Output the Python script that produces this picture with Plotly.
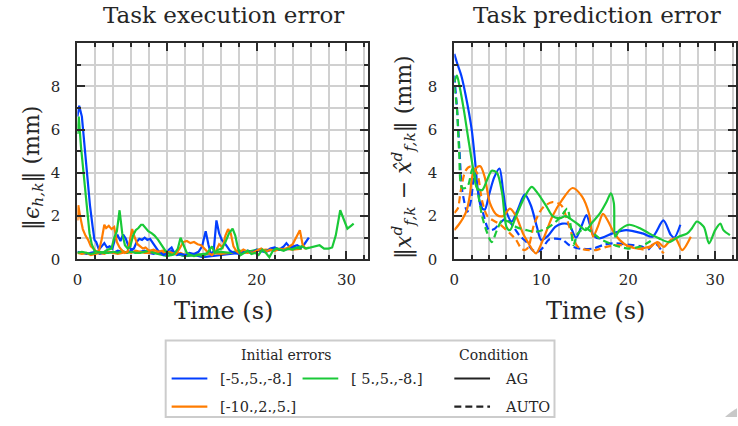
import math
import plotly.graph_objects as go

# ---------------- data ----------------
# Task execution error (mm), condition AG
exec_blue_ag_t = [0, 0.2, 0.5, 0.8, 1.1, 1.4, 1.7, 1.9, 2.1, 2.4, 2.7, 3.0, 3.3, 3.6, 3.9, 4.2, 4.5, 4.8, 5.1, 5.4, 5.7, 6.0, 6.3, 6.6, 6.9, 7.2, 7.5, 7.8, 8.1, 8.4, 8.7, 9.0, 9.3, 9.6, 9.9, 10.2, 10.5, 10.8, 11.1, 11.5, 12.0, 12.5, 13.0, 13.5, 13.9, 14.3, 14.6, 14.9, 15.2, 15.5, 15.8, 16.1, 16.5, 17.0, 17.5, 18.0, 18.5, 19.0, 19.5, 20.0, 20.5, 21.0, 21.5, 22.0, 22.5, 23.0, 23.3, 23.7, 24.1, 24.5, 24.9, 25.3, 25.8]
exec_blue_ag_v = [6.6, 7.1, 6.6, 5.2, 3.8, 2.5, 1.5, 0.9, 0.8, 0.45, 0.6, 0.75, 0.55, 0.6, 0.5, 0.95, 1.1, 0.85, 1.15, 0.95, 0.6, 0.45, 0.5, 0.8, 0.95, 0.9, 1.0, 0.9, 0.95, 0.75, 0.6, 0.4, 0.3, 0.2, 0.25, 0.45, 0.55, 0.3, 0.2, 0.25, 0.2, 0.3, 0.25, 0.35, 0.6, 1.3, 0.7, 0.2, 0.4, 1.8, 1.2, 0.9, 0.7, 0.4, 0.3, 0.25, 0.35, 0.4, 0.3, 0.45, 0.4, 0.35, 0.5, 0.55, 0.45, 0.6, 0.75, 0.55, 0.6, 0.65, 0.55, 0.7, 1.0]

exec_orange_ag_t = [0, 0.1, 0.3, 0.6, 0.9, 1.2, 1.5, 1.8, 2.1, 2.4, 2.7, 3.0, 3.2, 3.5, 3.8, 4.1, 4.4, 4.7, 5.0, 5.3, 5.6, 5.9, 6.1, 6.4, 6.7, 7.0, 7.3, 7.6, 8.0, 8.5, 9.0, 9.5, 10.0, 10.5, 11.0, 11.4, 11.8, 12.2, 12.6, 13.0, 13.4, 13.8, 14.2, 14.6, 15.0, 15.4, 15.8, 16.2, 16.5, 16.8, 17.1, 17.4, 17.7, 18.0, 18.5, 19.0, 19.5, 20.0, 20.5, 21.0, 21.5, 22.0, 22.5, 23.0, 23.5, 24.0, 24.4, 24.8, 25.1, 25.4, 25.8]
exec_orange_ag_v = [1.8, 2.5, 2.0, 1.4, 1.1, 0.9, 0.6, 0.5, 0.35, 0.4, 0.9, 1.6, 1.45, 1.55, 1.4, 1.5, 0.8, 0.55, 0.4, 0.3, 0.35, 1.0, 1.4, 1.0, 0.7, 0.6, 0.5, 0.55, 0.4, 0.45, 0.35, 0.4, 0.35, 0.3, 0.25, 0.5, 0.8, 0.85, 0.75, 0.8, 0.7, 0.65, 0.45, 0.3, 0.2, 0.35, 0.7, 0.55, 1.1, 1.4, 1.2, 0.6, 0.4, 0.3, 0.45, 0.35, 0.3, 0.4, 0.5, 0.35, 0.45, 0.4, 0.5, 0.45, 0.55, 0.7, 1.0, 1.35, 0.7, 0.5, 0.55]

exec_green_ag_t = [0, 0.15, 0.4, 0.8, 1.1, 1.35, 1.6, 1.9, 2.2, 2.6, 3.0, 3.4, 3.8, 4.1, 4.4, 4.7, 5.0, 5.3, 5.6, 5.9, 6.2, 6.5, 6.8, 7.1, 7.3, 7.6, 7.9, 8.3, 8.6, 9.0, 9.4, 9.8, 10.1, 10.5, 10.8, 11.2, 11.5, 11.9, 12.2, 12.6, 13.0, 13.5, 14.0, 14.5, 15.0, 15.3, 15.7, 16.1, 16.5, 16.9, 17.3, 17.6, 17.9, 18.2, 18.6, 19.0, 19.4, 19.8, 20.2, 20.6, 21.0, 21.4, 21.8, 22.2, 22.6, 23.0, 23.5, 24.0, 24.5, 25.0, 25.5, 26.0, 26.5, 27.0, 27.5, 28.0, 28.4, 28.8, 29.3, 29.7, 30.1, 30.5, 30.8]
exec_green_ag_v = [5.8, 6.6, 5.2, 3.4, 2.0, 1.2, 0.7, 0.4, 0.35, 0.3, 0.35, 0.45, 0.5, 1.0, 1.3, 2.27, 1.2, 0.65, 0.5, 0.6, 1.1, 1.35, 1.45, 1.6, 1.6, 1.45, 1.3, 1.2, 1.1, 0.9, 0.65, 0.4, 0.3, 0.2, 0.25, 0.5, 1.0, 0.6, 0.3, 0.2, 0.15, 0.2, 0.15, 0.3, 0.6, 0.3, 0.45, 0.5, 0.8, 1.2, 1.42, 1.1, 0.5, 0.2, 0.3, 0.4, 0.25, 0.3, 0.2, 0.45, 0.3, 0.1, 0.4, 0.5, 0.45, 0.4, 0.5, 0.45, 0.55, 0.6, 0.5, 0.55, 0.6, 0.65, 0.5, 0.5, 0.55, 1.1, 2.27, 1.8, 1.42, 1.55, 1.65]

# Task execution error (mm), condition AUTO
exec_auto_t = [0, 0.5, 1, 1.5, 2, 2.5, 3, 3.5, 4, 4.5, 5, 5.5, 6, 6.5, 7, 7.5, 8, 8.5, 9, 9.5, 10, 10.5, 11, 11.5, 12, 13, 14, 15, 16, 17, 18, 19, 20, 21, 22, 23, 24, 25]
exec_blue_auto_v = [0.35, 0.3, 0.25, 0.3, 0.35, 0.25, 0.3, 0.35, 0.3, 0.4, 0.35, 0.3, 0.4, 0.3, 0.35, 0.4, 0.3, 0.25, 0.35, 0.3, 0.25, 0.4, 0.3, 0.2, 0.15, 0.2, 0.1, 0.15, 0.2, 0.25, 0.3, 0.35, 0.4, 0.35, 0.5, 0.45, 0.5, 0.55]
exec_orange_auto_v = [0.3, 0.25, 0.3, 0.2, 0.25, 0.3, 0.25, 0.35, 0.3, 0.25, 0.3, 0.35, 0.3, 0.4, 0.35, 0.3, 0.3, 0.35, 0.25, 0.3, 0.35, 0.3, 0.25, 0.3, 0.2, 0.25, 0.2, 0.3, 0.25, 0.3, 0.35, 0.3, 0.4, 0.45, 0.4, 0.5, 0.45, 0.5]
exec_green_auto_v = [0.3, 0.35, 0.3, 0.25, 0.3, 0.35, 0.3, 0.3, 0.35, 0.3, 0.4, 0.3, 0.35, 0.3, 0.3, 0.35, 0.4, 0.3, 0.25, 0.2, 0.15, 0.2, 0.25, 0.2, 0.15, 0.2, 0.25, 0.3, 0.35, 0.3, 0.4, 0.35, 0.45, 0.4, 0.5, 0.45, 0.55, 0.5]

# Task prediction error (mm), condition AG
pred_blue_ag_t = [0, 0.3, 0.8, 1.3, 2.0, 2.4, 2.7, 3.1, 3.5, 4.0, 4.6, 5.2, 5.6, 6.0, 6.6, 7.3, 8.1, 8.8, 9.5, 10.0, 10.8, 11.6, 12.4, 13.2, 14.0, 14.6, 15.2, 15.6, 16.0, 16.7, 18.2, 19.75, 21.65, 22.8, 24.05, 24.9, 25.3, 26.0]
pred_blue_ag_v = [9.5, 9.1, 8.5, 7.6, 6.0, 4.5, 3.2, 2.4, 2.3, 3.0, 3.8, 4.2, 3.2, 2.2, 1.75, 2.3, 3.0, 2.5, 1.5, 0.9, 1.1, 1.5, 1.65, 1.6, 1.0, 1.5, 2.05, 1.6, 1.1, 0.97, 1.2, 1.35, 1.2, 1.05, 1.8, 1.13, 1.0, 1.6]

pred_orange_ag_t = [0, 0.5, 1.0, 1.45, 1.8, 2.1, 2.6, 3.0, 3.5, 4.1, 4.9, 5.6, 6.4, 7.1, 7.9, 8.6, 9.0, 9.4, 10.2, 11.3, 12.4, 13.6, 14.7, 15.5, 15.95, 16.5, 17.1, 17.7, 18.2, 19.0, 20.1, 21.3, 22.4, 23.4, 24.1, 24.9, 25.45, 26.2, 27.2]
pred_orange_ag_v = [1.35, 1.6, 1.9, 2.3, 3.0, 3.9, 4.25, 4.3, 3.8, 2.6, 2.05, 2.0, 2.35, 2.0, 1.2, 0.7, 0.43, 0.28, 0.9, 2.0, 2.75, 3.3, 2.9, 2.1, 1.05, 1.5, 2.1, 1.75, 1.35, 0.9, 0.58, 0.5, 0.58, 0.8, 0.58, 0.9, 0.97, 0.43, 1.05]

pred_green_ag_t = [0, 0.3, 0.6, 1.1, 1.6, 2.2, 2.6, 3.2, 3.8, 4.3, 4.9, 5.5, 6.0, 6.4, 7.1, 8.1, 8.9, 9.6, 10.6, 11.3, 12.1, 12.8, 13.6, 14.3, 15.1, 15.95, 16.7, 17.5, 18.0, 18.35, 18.5, 19.0, 20.1, 21.3, 22.4, 23.55, 24.7, 25.8, 26.8, 27.35, 27.9, 28.7, 29.3, 30.0, 30.6, 30.95, 31.7]
pred_green_ag_v = [8.2, 8.5, 8.0, 6.9, 5.6, 4.1, 3.3, 3.2, 3.7, 4.1, 4.0, 3.05, 1.5, 1.35, 2.0, 2.9, 3.35, 3.05, 2.45, 2.0, 1.9, 2.0, 1.8, 1.6, 1.35, 1.75, 2.1, 2.65, 3.05, 2.6, 1.05, 1.35, 1.6, 1.45, 1.2, 0.97, 0.8, 1.05, 1.2, 1.45, 1.75, 1.5, 0.74, 1.35, 1.65, 1.35, 1.12]

# Task prediction error (mm), condition AUTO
pred_blue_auto_t = [0, 0.3, 0.6, 0.9, 1.5, 1.9, 2.3, 2.8, 3.4, 4.0, 4.6, 5.3, 6.0, 6.8, 7.5, 8.3, 9.0, 9.6, 10.2, 10.9, 12.4, 13.2, 14.3, 15.95, 17.1, 18.2, 20.5, 21.65, 22.2, 23.0, 23.55, 23.95]
pred_blue_auto_v = [8.5, 7.0, 5.0, 3.2, 2.2, 2.7, 3.8, 3.05, 2.0, 1.35, 1.4, 1.7, 1.9, 1.5, 1.1, 0.8, 0.43, 0.35, 0.55, 0.92, 0.92, 0.66, 0.5, 0.5, 0.66, 0.74, 0.66, 0.58, 0.43, 0.74, 0.58, 0.28]

pred_orange_auto_t = [0, 0.4, 0.75, 1.3, 1.9, 2.6, 3.2, 3.8, 5.3, 6.4, 7.1, 7.7, 8.1, 8.5, 9.2, 10.2, 11.3, 12.3, 13.0, 13.6, 14.2, 15.0, 16.3, 17.5, 19.0, 20.5, 21.65, 22.6, 23.2, 23.75, 24.1]
pred_orange_auto_v = [2.15, 2.35, 3.2, 4.1, 4.3, 4.0, 2.7, 2.0, 1.6, 1.2, 0.9, 0.5, 0.43, 0.55, 1.65, 2.4, 2.65, 2.5, 1.8, 1.05, 0.58, 0.45, 0.43, 0.58, 0.66, 0.58, 0.46, 0.58, 0.8, 0.43, 0.28]

pred_green_auto_t = [0, 0.3, 0.55, 0.9, 1.5, 2.1, 2.6, 3.2, 3.8, 4.3, 4.9, 5.5, 6.2, 7.1, 8.3, 9.4, 10.6, 11.7, 12.4, 13.0, 13.4, 13.7, 14.2, 15.1, 16.7, 17.85, 19.0, 20.1, 21.3, 22.4, 23.0]
pred_green_auto_v = [8.0, 7.0, 5.0, 3.3, 3.35, 4.2, 3.35, 2.0, 1.2, 0.8, 1.35, 1.8, 1.75, 1.5, 1.35, 1.28, 1.43, 1.75, 2.05, 2.35, 1.5, 0.66, 1.2, 1.43, 0.97, 0.74, 0.58, 0.5, 0.58, 0.8, 0.97]

series_labels = ["[-5.,5.,-8.]", "[-10.,2.,5.]", "[ 5.,5.,-8.]"]
condition_labels = ["AG", "AUTO"]
panel_titles = ["Task execution error", "Task prediction error"]

# ---------------- style ----------------
W, H = 738, 426
K = 1.023  # vertical layout factor
BLUE, ORANGE, GREEN = "#023eff", "#ff7c00", "#1ac938"
FONT = "DejaVu Serif"
TXT = "#262626"
AXC = "#2b2b2b"
GRID = "#d0d0d0"
DASH = "7px,4px"


def px(x):
    return x / W


def py(y):
    return max(0.0, 1 - y * K / H)


fig = go.Figure()


def add_line(t, v, color, axis, dash="solid", spline=False):
    fig.add_trace(go.Scatter(
        x=t, y=v, mode="lines",
        line=dict(color=color, width=2.2, dash=dash,
                  shape="spline" if spline else "linear", smoothing=0.8),
        xaxis="x" if axis == 1 else "x2",
        yaxis="y" if axis == 1 else "y2",
        showlegend=False, hoverinfo="skip",
    ))


# execution panel
add_line(exec_auto_t, exec_blue_auto_v, BLUE, 1)
add_line(exec_auto_t, exec_orange_auto_v, ORANGE, 1)
add_line(exec_auto_t, exec_green_auto_v, GREEN, 1)
add_line(exec_blue_ag_t, exec_blue_ag_v, BLUE, 1)
add_line(exec_orange_ag_t, exec_orange_ag_v, ORANGE, 1)
add_line(exec_green_ag_t, exec_green_ag_v, GREEN, 1)

# prediction panel
add_line(pred_blue_ag_t, pred_blue_ag_v, BLUE, 2, spline=True)
add_line(pred_blue_auto_t, pred_blue_auto_v, BLUE, 2, dash=DASH, spline=True)
add_line(pred_orange_ag_t, pred_orange_ag_v, ORANGE, 2, spline=True)
add_line(pred_orange_auto_t, pred_orange_auto_v, ORANGE, 2, dash=DASH, spline=True)
add_line(pred_green_ag_t, pred_green_ag_v, GREEN, 2, spline=True)
add_line(pred_green_auto_t, pred_green_auto_v, GREEN, 2, dash=DASH, spline=True)


def xaxis_style(domain, anchor):
    return dict(
        domain=domain, anchor=anchor, range=[0, 32.4],
        tickvals=[0, 10, 20, 30], ticks="inside", ticklen=8, tickwidth=1.5,
        tickcolor=AXC, showline=True, linecolor=AXC, linewidth=2,
        mirror="allticks", showgrid=True, gridcolor=GRID, gridwidth=1.5,
        minor=dict(dtick=2, tick0=0, ticks="inside", ticklen=4, tickwidth=1.5,
                   tickcolor=AXC, showgrid=True, gridcolor=GRID, gridwidth=1.5),
        zeroline=False, tickfont=dict(family=FONT, size=15, color=TXT),
        ticklabelstandoff=6, fixedrange=True,
    )


def yaxis_style(domain, anchor):
    return dict(
        domain=domain, anchor=anchor, range=[0, 10],
        tickvals=[0, 2, 4, 6, 8], ticks="inside", ticklen=8, tickwidth=1.5,
        tickcolor=AXC, showline=True, linecolor=AXC, linewidth=2,
        mirror="allticks", showgrid=True, gridcolor=GRID, gridwidth=1.5,
        minor=dict(dtick=1, tick0=0, ticks="inside", ticklen=4, tickwidth=1.5,
                   tickcolor=AXC, showgrid=True, gridcolor=GRID, gridwidth=1.5),
        zeroline=False, tickfont=dict(family=FONT, size=15, color=TXT),
        ticklabelstandoff=12, fixedrange=True,
    )


y_dom = [py(259), py(43)]
fig.update_layout(
    width=W, height=H, autosize=False,
    margin=dict(l=0, r=0, t=0, b=0),
    paper_bgcolor="white", plot_bgcolor="white",
    showlegend=False,
    xaxis=xaxis_style([px(73), px(366)], "y"),
    yaxis=yaxis_style(y_dom, "x"),
    xaxis2=xaxis_style([px(453), px(737)], "y2"),
    yaxis2=yaxis_style(y_dom, "x2"),
)

ann = []
shapes = []


def text(x, y, s, size, anchor="center", angle=0):
    ann.append(dict(x=px(x), y=py(y), xref="paper", yref="paper", text=s,
                    showarrow=False, xanchor=anchor, yanchor="middle",
                    textangle=angle,
                    font=dict(family=FONT, size=size, color=TXT)))


# panel titles and axis titles
text(220, 15, panel_titles[0], 23)
text(597, 15, panel_titles[1], 23)
text(220, 311, "Time (s)", 24)
text(595, 311, "Time (s)", 24)
text(28, 168, "‖<i>ϵ</i><sub><i>h,k</i></sub>‖ (mm)", 22, angle=-90)
text(402, 157, "‖<i>x</i><sup><i>d</i></sup><sub><i>f,k</i></sub> − "
     "<i>x̂</i><sup><i>d</i></sup><sub><i>f,k</i></sub>‖ (mm)", 22, angle=-90)

# grey disc in the lower right corner, kept inside the page
cx, cy, r = 768.0, 462.0, 62.0
ylim = H / K
a0 = math.atan2(ylim - cy, cx - math.sqrt(r * r - (ylim - cy) ** 2) - cx)
a1 = math.atan2(-math.sqrt(r * r - 30.0 ** 2), -30.0)
pts = []
for i in range(25):
    a = a0 + (a1 - a0) * i / 24
    pts.append((cx + r * math.cos(a), cy + r * math.sin(a)))
path = "M " + " L ".join(f"{px(x):.5f},{py(y):.5f}" for x, y in pts)
path += f" L {px(738):.5f},0 Z"
shapes.append(dict(type="path", xref="paper", yref="paper", path=path,
                   fillcolor="#c8c8c8", line=dict(width=0), layer="below"))

# legend frame
shapes.append(dict(type="rect", xref="paper", yref="paper",
                   x0=px(162), x1=px(554), y0=py(423), y1=py(340),
                   fillcolor="white", line=dict(color="#cccccc", width=2)))

# legend: initial errors
text(283, 355, "Initial errors", 14)
entries = [
    (168, 378, BLUE, series_labels[0]),
    (168, 406, ORANGE, series_labels[1]),
    (300, 378, GREEN, series_labels[2]),
]
for x0, yy, col, lab in entries:
    shapes.append(dict(type="line", xref="paper", yref="paper",
                       x0=px(x0), x1=px(x0 + 36), y0=py(yy), y1=py(yy),
                       line=dict(color=col, width=2.2)))
    text(x0 + 47, yy, lab, 14.5, anchor="left")

# legend: condition
text(492, 355, "Condition", 14)
for yy, dash, lab in [(378, "solid", condition_labels[0]), (406, DASH, condition_labels[1])]:
    shapes.append(dict(type="line", xref="paper", yref="paper",
                       x0=px(453), x1=px(489), y0=py(yy), y1=py(yy),
                       line=dict(color="#222222", width=2.2, dash=dash)))
    text(502, yy, lab, 14.5, anchor="left")

fig.update_layout(annotations=ann, shapes=shapes)
fig.write_html("out.html")
